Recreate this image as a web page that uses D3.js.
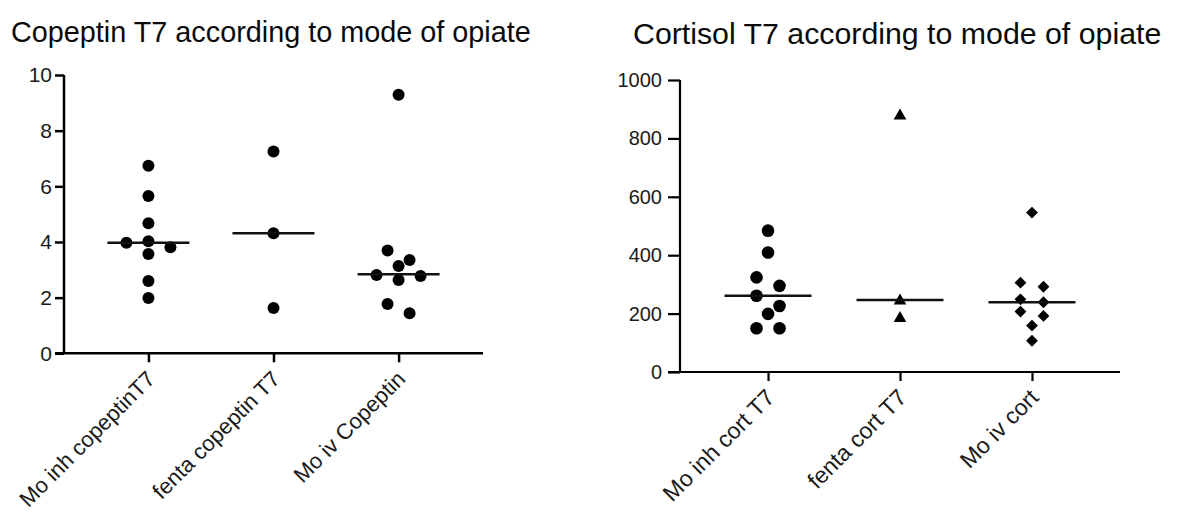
<!DOCTYPE html>
<html><head><meta charset="utf-8">
<script src="https://cdn.jsdelivr.net/npm/d3@7"></script>
<style>body{margin:0;background:#fff}svg{display:block}text{font-family:"Liberation Sans",Arial,sans-serif}</style>
</head><body>
<svg id="c" width="1178" height="514"></svg>
<script>
// ---- data ----
const copeptinCategories = ["Mo inh copeptinT7", "fenta copeptin T7", "Mo iv Copeptin"];
const copeptinMoInh = [6.74, 5.65, 4.67, 4.03, 3.97, 3.81, 3.57, 2.60, 1.99];
const copeptinFenta = [7.25, 4.31, 1.63];
const copeptinMoIv = [9.29, 3.69, 3.35, 3.14, 2.81, 2.78, 2.63, 1.77, 1.44];
const copeptinMedians = [3.97, 4.31, 2.84];
const copeptinTicks = [0, 2, 4, 6, 8, 10];

const cortisolCategories = ["Mo inh cort T7", "fenta cort T7", "Mo iv cort"];
const cortisolMoInh = [484, 409, 324, 295, 261, 226, 199, 150, 150];
const cortisolFenta = [877, 244, 184];
const cortisolMoIv = [546, 306, 292, 249, 239, 207, 192, 159, 107];
const cortisolMedians = [261, 247, 239];
const cortisolTicks = [0, 200, 400, 600, 800, 1000];
const cortisolShapes = ["circle", "triangle", "diamond"];

const svg = d3.select("#c");

function swarm(values, y, T) {
  const idx = values.map((v, i) => i).sort((a, b) => values[b] - values[a]);
  const off = new Array(values.length).fill(0);
  let row = [];
  const flush = () => {
    const n = row.length;
    const pat = n === 1 ? [0] : n === 2 ? [-0.5, 0.5] : n === 3 ? [0, -1, 1] : row.map((_, k) => k - (n - 1) / 2);
    row.forEach((i, k) => off[i] = pat[k]);
    row = [];
  };
  idx.forEach(i => {
    if (row.length && y(values[i]) - y(values[row[0]]) > T) flush();
    row.push(i);
  });
  flush();
  return off;
}

function panel(o) {
  const g = svg.append("g");
  const x = d3.scalePoint().domain(o.cats).range([o.x0, o.x1]).padding(o.pad);
  const y = d3.scaleLinear().domain([0, o.ymax]).range([o.yb, o.yt]);
  g.append("text").attr("x", o.tx).attr("y", o.ty).attr("font-size", o.tfs).attr("fill", "#0a0a0a").text(o.title);
  const ya = g.append("g").attr("transform", `translate(${o.x0},0)`)
    .call(d3.axisLeft(y).tickValues(o.ticks).tickFormat(d3.format("d")).tickSize(o.tick).tickPadding(o.tpad).tickSizeOuter(0));
  ya.attr("font-size", null).attr("font-family", null);
  ya.select(".domain").remove();
  ya.selectAll("line").attr("stroke", "#000").attr("stroke-width", o.sw);
  ya.selectAll("text").attr("font-size", o.yfs).attr("fill", "#1a1a1a");
  const xa = g.append("g").attr("transform", `translate(0,${o.yb})`)
    .call(d3.axisBottom(x).tickSize(o.xtick).tickSizeOuter(0).tickFormat(""));
  xa.select(".domain").remove();
  xa.selectAll("line").attr("stroke", "#000").attr("stroke-width", o.sw);
  g.append("line").attr("x1", o.x0).attr("x2", o.x0).attr("y1", y(0)).attr("y2", y(o.ymax)).attr("stroke", "#000").attr("stroke-width", o.sw);
  g.append("line").attr("x1", o.x0 - o.tick).attr("x2", o.x1).attr("y1", y(0)).attr("y2", y(0)).attr("stroke", "#000").attr("stroke-width", o.sw);
  o.cats.forEach(c => {
    g.append("text").attr("transform", `translate(${x(c) + o.ldx},${o.yb + o.ldy}) rotate(-45)`)
      .attr("text-anchor", "end").attr("font-size", o.xfs).attr("fill", "#1a1a1a").text(c);
  });
  o.series.forEach((vals, si) => {
    const off = swarm(vals, y, 12);
    const shape = o.shapes[si];
    vals.forEach((v, i) => {
      const cx = x(o.cats[si]) + off[i] * o.unit, cy = y(v);
      if (shape === "circle") {
        g.append("circle").attr("cx", cx).attr("cy", cy).attr("r", o.r).attr("fill", "#000");
      } else if (shape === "triangle") {
        g.append("path").attr("d", d3.symbol(d3.symbolTriangle, 70)()).attr("transform", `translate(${cx},${cy})`).attr("fill", "#000");
      } else {
        g.append("path").attr("d", d3.symbol(d3.symbolSquare, 70)()).attr("transform", `translate(${cx},${cy}) rotate(45)`).attr("fill", "#000");
      }
    });
    g.append("line").attr("x1", x(o.cats[si]) - o.mw / 2).attr("x2", x(o.cats[si]) + o.mw / 2)
      .attr("y1", y(o.medians[si])).attr("y2", y(o.medians[si])).attr("stroke", "#111").attr("stroke-width", 2.5);
  });
}

panel({
  title: "Copeptin T7 according to mode of opiate", tx: 11, ty: 42, tfs: 28.8,
  cats: copeptinCategories, series: [copeptinMoInh, copeptinFenta, copeptinMoIv], medians: copeptinMedians,
  shapes: ["circle", "circle", "circle"], ticks: copeptinTicks, ymax: 10,
  x0: 64, x1: 483, pad: 0.675, yb: 353.3, yt: 75, tick: 9, tpad: 3, xtick: 9, sw: 2.5,
  yfs: 21, xfs: 22, ldx: 8, ldy: 27, r: 6, unit: 22, mw: 82
});
panel({
  title: "Cortisol T7 according to mode of opiate", tx: 633, ty: 44, tfs: 30.3,
  cats: cortisolCategories, series: [cortisolMoInh, cortisolFenta, cortisolMoIv], medians: cortisolMedians,
  shapes: cortisolShapes, ticks: cortisolTicks, ymax: 1000,
  x0: 680, x1: 1120, pad: 0.667, yb: 372, yt: 80, tick: 12, tpad: 6, xtick: 9, sw: 2.2,
  yfs: 20, xfs: 23, ldx: 8, ldy: 27, r: 6.3, unit: 23, mw: 87
});
</script>
</body></html>
